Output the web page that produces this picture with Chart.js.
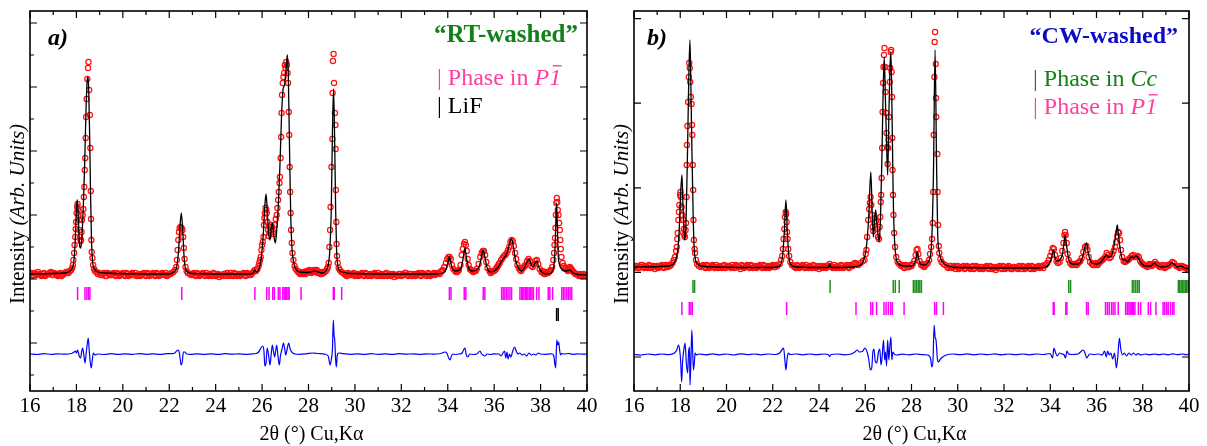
<!DOCTYPE html>
<html>
<head>
<meta charset="utf-8">
<script src="https://cdn.jsdelivr.net/npm/chart.js@4/dist/chart.umd.min.js"></script>
<style>
html,body{margin:0;padding:0;background:#fff;overflow:hidden;}
#wrap{position:relative;width:1207px;height:446px;background:#fff;}
.pan{position:absolute;top:0;height:446px;}
</style>
</head>
<body>
<div id="wrap">
  <div class="pan" style="left:0;width:603px;"><canvas id="ca"></canvas></div>
  <div class="pan" style="left:603px;width:604px;"><canvas id="cb"></canvas></div>
</div>
<script>
// ---------------- axis tick values / labels ----------------
const xMajor = [16,18,20,22,24,26,28,30,32,34,36,38,40];
const xMinor = [17,19,21,23,25,27,29,31,33,35,37,39];
const yTicksA = [0,32,64,96,128,160,192,224,256,288,320,352];
const yMajorA = [32,96,160,224,288,352];
const yTicksB = [0,84.6,169.2,253.8,338.4];

// ---------------- panel a) "RT-washed" ----------------
const obsA = [
[16.0,101],[16.1,99],[16.2,102],[16.3,100],[16.4,101],[16.5,99],[16.6,102],[16.7,100],[16.8,101],[16.9,103],
[17.0,100],[17.1,101],[17.2,99],[17.3,102],[17.4,100],[17.5,102],[17.6,103],[17.66,102],[17.72,104],[17.77,105],
[17.82,107],[17.85,110],[17.87,115],[17.9,122],[17.92,130],[17.95,138],[17.97,146],[17.99,153],[18.01,162],[18.03,168],
[18.05,171],[18.07,166],[18.09,160],[18.11,155],[18.13,145],[18.15,138],[18.18,134],[18.2,135],[18.22,143],[18.24,155],
[18.27,160],[18.3,166],[18.32,178],[18.34,188],[18.36,205],[18.38,217],[18.4,237],[18.42,258],[18.44,276],[18.47,296],
[18.5,307],[18.52,313],[18.55,285],[18.58,260],[18.6,227],[18.62,184],[18.63,156],[18.645,135],[18.66,123],[18.69,117],
[18.72,110],[18.76,106],[18.8,104],[18.86,103],[18.92,101],[19.0,102],[19.1,100],[19.2,102],[19.3,99],[19.4,101],
[19.5,100],[19.6,102],[19.7,99],[19.8,101],[19.9,100],[20.0,102],[20.1,99],[20.2,101],[20.3,100],[20.4,102],
[20.5,100],[20.6,99],[20.7,101],[20.8,100],[20.9,102],[21.0,99],[21.1,101],[21.2,100],[21.3,102],[21.4,99],
[21.5,101],[21.6,100],[21.7,102],[21.8,100],[21.9,99],[22.0,101],[22.1,102],[22.18,103],[22.25,105],[22.3,108],
[22.33,115],[22.36,125],[22.39,135],[22.42,143],[22.45,147],[22.49,148],[22.53,147],[22.57,145],[22.6,138],[22.63,127],
[22.66,116],[22.7,108],[22.75,104],[22.8,102],[22.88,101],[22.95,100],[23.05,102],[23.15,99],[23.25,101],[23.35,100],
[23.45,102],[23.55,99],[23.65,100],[23.75,101],[23.85,99],[23.95,101],[24.05,100],[24.15,98],[24.25,100],[24.35,101],
[24.45,99],[24.55,100],[24.65,102],[24.75,99],[24.85,101],[24.95,100],[25.05,99],[25.15,101],[25.25,100],[25.35,102],
[25.45,100],[25.55,101],[25.62,103],[25.68,105],[25.74,104],[25.8,106],[25.85,109],[25.88,112],[25.91,115],[25.94,118],
[25.97,125],[26.0,130],[26.03,133],[26.06,138],[26.08,150],[26.1,157],[26.12,162],[26.15,167],[26.18,165],[26.2,162],
[26.23,153],[26.26,145],[26.29,139],[26.32,142],[26.35,148],[26.39,150],[26.43,148],[26.47,143],[26.51,141],[26.55,150],
[26.59,156],[26.63,160],[26.66,167],[26.69,175],[26.72,183],[26.75,192],[26.77,198],[26.8,217],[26.82,238],[26.84,262],
[26.86,280],[26.89,292],[26.92,298],[26.95,302],[26.98,310],[27.01,307],[27.04,313],[27.07,310],[27.1,302],[27.12,292],
[27.15,263],[27.17,240],[27.19,208],[27.21,183],[27.23,162],[27.25,145],[27.28,132],[27.31,122],[27.35,115],[27.4,109],
[27.45,106],[27.52,104],[27.6,102],[27.68,103],[27.76,101],[27.84,102],[27.92,104],[28.0,103],[28.08,104],[28.16,103],
[28.24,105],[28.32,104],[28.4,102],[28.48,103],[28.56,101],[28.64,102],[28.7,103],[28.75,104],[28.8,106],[28.84,108],
[28.87,112],[28.9,128],[28.93,145],[28.95,168],[28.99,208],[29.03,236],[29.04,282],[29.055,314],[29.08,321],[29.1,292],
[29.14,262],[29.16,250],[29.17,226],[29.18,185],[29.2,153],[29.21,131],[29.23,119],[29.26,112],[29.3,107],[29.35,105],
[29.42,103],[29.5,102],[29.6,100],[29.7,102],[29.8,100],[29.9,101],[30.0,99],[30.1,101],[30.2,100],[30.3,102],
[30.4,99],[30.5,101],[30.6,100],[30.7,99],[30.8,101],[30.9,100],[31.0,102],[31.1,99],[31.2,100],[31.3,101],
[31.4,99],[31.5,101],[31.6,100],[31.7,98],[31.8,100],[31.9,101],[32.0,99],[32.1,100],[32.2,102],[32.3,99],
[32.4,101],[32.5,100],[32.6,99],[32.7,101],[32.8,100],[32.9,102],[33.0,100],[33.1,99],[33.2,101],[33.3,100],
[33.4,102],[33.5,101],[33.6,102],[33.7,103],[33.78,105],[33.85,108],[33.92,112],[33.98,116],[34.03,118],[34.08,118],
[34.13,116],[34.18,110],[34.24,106],[34.32,104],[34.4,103],[34.48,105],[34.55,110],[34.6,120],[34.65,126],[34.7,131],
[34.74,133],[34.78,130],[34.82,124],[34.86,116],[34.9,110],[34.96,106],[35.05,104],[35.15,104],[35.25,106],[35.33,111],
[35.4,118],[35.46,122],[35.51,124],[35.56,124],[35.61,120],[35.66,113],[35.71,107],[35.8,104],[35.9,103],[36.0,104],
[36.08,106],[36.16,109],[36.24,112],[36.3,115],[36.36,117],[36.42,119],[36.48,120],[36.54,122],[36.6,125],[36.65,128],
[36.7,133],[36.75,135],[36.8,134],[36.85,129],[36.9,122],[36.95,116],[37.0,110],[37.06,107],[37.12,105],[37.2,106],
[37.28,108],[37.35,110],[37.42,114],[37.48,116],[37.54,114],[37.6,109],[37.66,108],[37.72,111],[37.78,114],[37.84,115],
[37.9,111],[37.96,106],[38.04,103],[38.12,102],[38.2,101],[38.28,102],[38.36,103],[38.44,105],[38.5,108],[38.55,115],
[38.58,122],[38.6,130],[38.62,137],[38.64,147],[38.66,160],[38.68,172],[38.7,177],[38.72,173],[38.74,165],[38.77,160],
[38.8,152],[38.83,145],[38.85,135],[38.87,126],[38.9,118],[38.95,112],[39.0,109],[39.07,107],[39.15,105],[39.22,106],
[39.29,107],[39.35,105],[39.42,103],[39.5,101],[39.6,100],[39.7,101],[39.8,99],[39.9,100],[40.0,99],
// further background readings between the ones above
[16.05,102],[16.15,100],[16.25,101],[16.35,103],[16.45,100],[16.55,101],[16.65,99],[16.75,101],[16.85,102],[16.95,100],
[17.05,102],[17.15,100],[17.25,101],[17.35,99],[17.45,101],[17.55,103],[19.05,100],[19.15,101],[19.25,99],[19.35,102],
[19.45,100],[19.55,101],[19.65,100],[19.75,102],[19.85,99],[19.95,101],[20.05,100],[20.15,102],[20.25,99],[20.35,101],
[20.45,100],[20.55,102],[20.65,100],[20.75,99],[20.85,101],[20.95,100],[21.05,102],[21.15,99],[21.25,101],[21.35,100],
[21.45,102],[21.55,99],[21.65,101],[21.75,100],[21.85,102],[21.95,100],[22.05,101],[23.0,101],[23.1,100],[23.2,102],
[23.3,99],[23.4,101],[23.5,100],[23.6,102],[23.7,99],[23.8,100],[23.9,102],[24.0,99],[24.1,101],[24.2,100],
[24.3,99],[24.4,101],[24.5,102],[24.6,99],[24.7,100],[24.8,102],[24.9,99],[25.0,101],[25.1,100],[25.2,102],
[25.3,99],[25.4,101],[25.5,100],[27.56,103],[27.64,101],[27.72,102],[27.8,103],[27.88,101],[27.96,103],[28.04,105],
[28.12,102],[28.2,104],[28.28,103],[28.36,105],[28.44,102],[28.52,101],[28.6,103],[29.55,101],[29.65,99],[29.75,101],
[29.85,100],[29.95,102],[30.05,100],[30.15,99],[30.25,101],[30.35,100],[30.45,102],[30.55,99],[30.65,101],[30.75,100],
[30.85,102],[30.95,99],[31.05,100],[31.15,101],[31.25,99],[31.35,102],[31.45,100],[31.55,99],[31.65,101],[31.75,100],
[31.85,99],[31.95,101],[32.05,100],[32.15,102],[32.25,100],[32.35,101],[32.45,99],[32.55,101],[32.65,100],[32.75,102],
[32.85,99],[32.95,101],[33.05,100],[33.15,102],[33.25,99],[33.35,101],[33.45,100],[33.55,102],[33.65,101],[33.74,104],
[34.36,103],[34.44,104],[35.0,105],[35.1,103],[35.2,104],[35.85,102],[35.95,104],[36.04,105],[36.12,108],[36.2,111],
[37.16,104],[37.24,107],[37.32,109],[38.08,104],[38.16,101],[38.24,103],[38.32,102],[38.4,104],[39.1,106],[39.18,104],
[39.26,108],[39.32,106],[39.38,104],[39.46,102],[39.55,101],[39.65,99],[39.75,100],[39.85,101],[39.95,99]
];
const calcA = [
[16,101],[17.5,102],[17.7,103.5],[17.8,106],[17.88,112],[17.94,130],[17.98,155],[18.01,170],[18.04,175],[18.07,165],
[18.11,140],[18.15,128],[18.19,127],[18.24,140],[18.3,170],[18.36,215],[18.42,270],[18.47,296],[18.5,298],[18.53,285],
[18.57,240],[18.61,180],[18.65,135],[18.69,115],[18.75,107],[18.85,104],[19.2,102],[22.0,101],[22.2,103],[22.32,108],
[22.4,124],[22.46,148],[22.52,162],[22.58,145],[22.64,118],[22.7,106],[22.8,103],[23.0,101.5],[25.5,101],[25.62,102],
[25.69,105],[25.75,103],[25.85,105],[25.95,115],[26.05,140],[26.12,170],[26.17,181],[26.22,165],[26.28,142],[26.34,135],
[26.4,148],[26.44,152],[26.5,140],[26.57,132],[26.63,145],[26.7,170],[26.77,210],[26.84,260],[26.9,285],[26.93,288],
[26.97,290],[27.03,305],[27.09,320],[27.13,300],[27.18,230],[27.23,165],[27.28,130],[27.35,114],[27.45,106],[27.6,103],
[27.9,102.5],[28.1,103],[28.25,104],[28.35,103.5],[28.6,102],[28.75,104],[28.85,110],[28.92,125],[28.98,165],[29.03,240],
[29.08,286],[29.13,230],[29.17,165],[29.21,125],[29.26,110],[29.32,105],[29.45,103],[29.8,101.5],[33.5,101],[33.8,102],
[33.95,107],[34.03,115],[34.07,119],[34.12,114],[34.2,106],[34.35,104],[34.55,106],[34.65,115],[34.74,127],[34.8,118],
[34.9,107],[35.05,104],[35.25,105],[35.4,112],[35.48,122],[35.53,125],[35.6,118],[35.7,107],[35.85,103],[36.0,104],
[36.15,107],[36.28,112],[36.35,115],[36.45,118],[36.55,122],[36.65,130],[36.75,136],[36.83,128],[36.92,115],[37.05,107],
[37.18,104],[37.3,107],[37.42,113],[37.51,116],[37.6,110],[37.68,108],[37.76,112],[37.83,114],[37.92,108],[38.05,103],
[38.25,101],[38.45,102],[38.55,106],[38.62,125],[38.66,155],[38.69,172],[38.72,150],[38.76,120],[38.82,110],[38.9,106],
[39.05,104],[39.2,104.5],[39.27,105],[39.4,102],[39.6,100.5],[40,100]
];
const diffA = [
[16,21],[16.3,20.5],[16.6,21.3],[16.9,20.7],[17.2,21.2],[17.5,20.8],[17.8,21.5],[17.9,23],[17.95,24],[18.0,22],
[18.05,25],[18.12,19],[18.18,17],[18.23,24],[18.27,27],[18.32,20],[18.37,12],[18.43,24],[18.48,33],[18.51,37],
[18.55,25],[18.6,12],[18.64,7],[18.68,14],[18.73,22],[18.8,20],[18.9,21],[19.2,20.5],[19.5,21.3],[19.8,20.6],
[20.1,21.2],[20.4,20.6],[20.7,21.4],[21.0,20.7],[21.3,21.2],[21.6,20.6],[21.9,21.3],[22.2,21.5],[22.32,24],[22.4,25],
[22.45,20],[22.51,10],[22.56,13],[22.61,23],[22.67,23],[22.75,21],[22.9,20.6],[23.2,21.2],[23.5,20.7],[23.8,21.2],
[24.1,20.6],[24.4,21.3],[24.7,20.8],[25.0,21.2],[25.3,20.6],[25.6,21.2],[25.75,21.5],[25.85,23],[25.95,27],[26.03,29],
[26.08,24],[26.12,9],[26.17,12],[26.22,27],[26.28,20],[26.34,10],[26.39,20],[26.44,30],[26.49,24],[26.54,18],
[26.59,25],[26.63,30],[26.68,20],[26.74,10],[26.79,19],[26.86,26],[26.92,32],[26.97,27],[27.02,20],[27.08,26],
[27.15,32],[27.2,27],[27.25,24],[27.32,22],[27.42,21],[27.6,20.7],[27.9,21.2],[28.2,22],[28.4,21.5],[28.7,20.8],
[28.85,19],[28.93,10],[28.98,15],[29.03,25],[29.07,55],[29.1,40],[29.13,35],[29.17,15],[29.2,8],[29.24,20],
[29.3,22],[29.5,21.4],[29.8,20.7],[30.1,21.2],[30.4,20.6],[30.7,21.3],[31.0,20.7],[31.3,21.2],[31.6,20.6],[31.9,21.3],
[32.2,20.8],[32.5,21.2],[32.8,20.7],[33.1,21.2],[33.4,20.8],[33.7,21.5],[33.88,23],[33.96,22],[34.04,17],[34.1,15],
[34.16,19],[34.22,21],[34.35,20.5],[34.5,21],[34.62,22],[34.7,26],[34.74,27],[34.8,20],[34.86,18],[34.95,21],
[35.1,20.5],[35.25,21],[35.39,24],[35.46,21],[35.52,20],[35.6,19],[35.7,21],[35.85,20.5],[36.0,21.2],[36.2,21],
[36.3,19],[36.38,22],[36.45,24],[36.5,17],[36.55,23],[36.6,16],[36.66,21],[36.72,18],[36.8,24],[36.88,28],
[36.95,24],[37.02,21],[37.1,22],[37.2,20],[37.3,21],[37.4,19],[37.5,22],[37.6,20],[37.7,21],[37.8,20],
[37.9,22],[38.0,21],[38.2,20.6],[38.4,21.2],[38.5,21],[38.57,19],[38.62,10],[38.65,7],[38.68,25],[38.7,35],
[38.74,30],[38.78,33],[38.82,25],[38.86,20],[38.9,21.5],[39.0,21],[39.2,21.5],[39.4,20.7],[39.6,21.2],[39.8,20.8],[40,21]
];
const braggA_P1 = [18.05,18.37,18.45,18.52,18.58,22.54,25.69,26.2,26.3,26.46,26.53,26.7,26.77,26.89,26.95,27.0,27.06,27.12,27.17,
27.68,29.07,29.11,29.43,34.07,34.14,34.71,34.78,35.53,35.6,36.32,36.39,36.46,36.53,36.6,36.68,36.75,37.11,37.18,37.22,37.28,
37.34,37.39,37.45,37.51,37.57,37.63,37.69,37.83,37.93,38.33,38.4,38.52,38.91,38.98,39.05,39.13,39.2,39.27,39.34];
const braggA_LiF = [38.69,38.76];

// ---------------- panel b) "CW-washed" ----------------
const obsB = [
[16.0,90],[16.1,91],[16.2,89],[16.3,92],[16.4,90],[16.5,91],[16.6,89],[16.7,91],[16.8,90],[16.9,88],
[17.0,91],[17.1,90],[17.2,92],[17.3,89],[17.4,91],[17.5,92],[17.6,92],[17.66,94],[17.72,97],[17.77,100],
[17.82,106],[17.85,110],[17.87,118],[17.89,124],[17.92,137],[17.94,145],[17.96,152],[17.99,162],[18.01,165],[18.03,160],
[18.06,150],[18.09,142],[18.12,137],[18.15,128],[18.17,122],[18.2,120],[18.23,127],[18.25,134],[18.27,160],[18.28,192],
[18.29,212],[18.31,231],[18.34,255],[18.37,280],[18.39,294],[18.41,289],[18.43,275],[18.46,260],[18.49,253],[18.51,232],
[18.52,222],[18.54,192],[18.56,167],[18.57,137],[18.59,117],[18.62,108],[18.64,104],[18.68,97],[18.73,93],[18.8,91],
[18.9,90],[19.0,92],[19.1,89],[19.2,91],[19.3,90],[19.4,92],[19.5,89],[19.6,90],[19.7,91],[19.8,89],
[19.9,92],[20.0,90],[20.1,91],[20.2,89],[20.3,90],[20.4,92],[20.5,90],[20.6,88],[20.7,91],[20.8,90],
[20.9,92],[21.0,89],[21.1,91],[21.2,90],[21.3,89],[21.4,91],[21.5,90],[21.6,92],[21.7,89],[21.8,91],
[21.9,90],[22.0,92],[22.1,90],[22.2,91],[22.3,93],[22.36,97],[22.41,101],[22.44,108],[22.47,118],[22.5,128],
[22.53,140],[22.56,145],[22.58,143],[22.6,135],[22.62,125],[22.64,118],[22.67,108],[22.71,101],[22.76,95],[22.83,92],
[22.9,91],[23.0,89],[23.1,91],[23.2,90],[23.3,92],[23.4,89],[23.5,90],[23.6,91],[23.7,89],[23.8,91],
[23.9,90],[24.0,88],[24.1,91],[24.2,90],[24.3,89],[24.4,91],[24.45,93],[24.5,91],[24.6,89],[24.7,90],
[24.8,91],[24.9,89],[25.0,91],[25.1,90],[25.2,92],[25.3,89],[25.4,91],[25.5,93],[25.56,94],[25.62,93],
[25.7,92],[25.8,94],[25.9,96],[25.97,97],[26.02,103],[26.05,107],[26.08,120],[26.13,137],[26.17,148],[26.2,154],
[26.23,160],[26.26,152],[26.29,142],[26.32,130],[26.35,126],[26.39,135],[26.43,139],[26.47,136],[26.51,128],[26.55,120],
[26.59,118],[26.62,130],[26.65,140],[26.67,155],[26.69,162],[26.71,179],[26.73,209],[26.75,245],[26.77,274],[26.79,290],
[26.81,302],[26.83,309],[26.86,290],[26.88,265],[26.9,244],[26.92,224],[26.95,210],[26.97,193],[26.99,209],[27.01,217],
[27.03,240],[27.06,275],[27.08,289],[27.1,305],[27.12,307],[27.14,285],[27.16,260],[27.17,219],[27.18,187],[27.2,162],
[27.22,142],[27.25,124],[27.29,110],[27.34,100],[27.4,95],[27.47,93],[27.55,91],[27.65,90],[27.75,92],[27.85,90],
[27.95,92],[28.05,93],[28.12,96],[28.18,102],[28.22,107],[28.26,108],[28.3,103],[28.35,96],[28.42,92],[28.5,91],
[28.6,92],[28.7,94],[28.76,97],[28.8,103],[28.85,110],[28.89,118],[28.92,134],[28.94,165],[28.96,222],[28.99,280],
[29.0,315],[29.02,325],[29.05,293],[29.06,259],[29.07,240],[29.12,203],[29.13,165],[29.15,132],[29.18,111],[29.2,104],
[29.25,98],[29.3,95],[29.38,93],[29.46,92],[29.55,90],[29.65,91],[29.75,89],[29.85,91],[29.95,90],[30.05,88],
[30.15,90],[30.25,91],[30.35,89],[30.45,90],[30.55,88],[30.65,91],[30.75,89],[30.85,90],[30.95,88],[31.05,90],
[31.15,89],[31.25,91],[31.35,88],[31.45,90],[31.55,89],[31.65,87],[31.75,90],[31.85,89],[31.95,91],[32.05,88],
[32.15,90],[32.25,89],[32.35,88],[32.45,90],[32.55,89],[32.65,91],[32.75,88],[32.85,90],[32.95,89],[33.05,91],
[33.15,88],[33.25,90],[33.35,89],[33.45,90],[33.55,89],[33.65,91],[33.75,92],[33.8,92],[33.87,94],[33.94,97],
[34.0,101],[34.06,105],[34.11,109],[34.16,108],[34.21,102],[34.27,96],[34.33,94],[34.4,95],[34.46,99],[34.52,106],
[34.57,114],[34.61,122],[34.64,125],[34.67,122],[34.71,114],[34.75,103],[34.8,97],[34.86,94],[34.93,92],[35.0,92],
[35.1,93],[35.2,94],[35.3,96],[35.36,99],[35.43,105],[35.5,110],[35.56,111],[35.61,107],[35.66,100],[35.72,95],
[35.8,93],[35.9,92],[36.0,93],[36.1,94],[36.2,96],[36.3,98],[36.37,100],[36.44,104],[36.5,102],[36.56,99],
[36.62,100],[36.68,103],[36.74,106],[36.8,110],[36.85,115],[36.9,121],[36.94,125],[36.98,124],[37.02,117],[37.06,107],
[37.11,100],[37.17,96],[37.23,95],[37.3,96],[37.37,97],[37.45,99],[37.52,101],[37.59,102],[37.65,100],[37.71,100],
[37.77,101],[37.83,100],[37.89,96],[37.95,94],[38.05,92],[38.15,91],[38.25,92],[38.35,92],[38.45,93],[38.53,95],
[38.6,93],[38.7,91],[38.8,90],[38.9,91],[39.0,90],[39.1,91],[39.2,93],[39.28,95],[39.35,94],[39.45,91],
[39.55,90],[39.65,91],[39.75,90],[39.85,89],[39.92,88],[40.0,88],
// further background readings between the ones above
[16.05,91],[16.15,89],[16.25,90],[16.35,92],[16.45,89],[16.55,90],[16.65,92],[16.75,89],[16.85,91],[16.95,90],
[17.05,89],[17.15,91],[17.25,90],[17.35,92],[17.45,90],[17.55,91],[18.95,91],[19.05,90],[19.15,92],[19.25,89],
[19.35,91],[19.45,90],[19.55,92],[19.65,89],[19.75,90],[19.85,91],[19.95,89],[20.05,91],[20.15,90],[20.25,92],
[20.35,89],[20.45,91],[20.55,90],[20.65,92],[20.75,89],[20.85,91],[20.95,90],[21.05,92],[21.15,89],[21.25,91],
[21.35,90],[21.45,92],[21.55,89],[21.65,91],[21.75,90],[21.85,89],[21.95,91],[22.05,90],[22.15,92],[22.95,90],
[23.05,92],[23.15,89],[23.25,91],[23.35,90],[23.45,92],[23.55,89],[23.65,90],[23.75,92],[23.85,89],[23.95,91],
[24.05,90],[24.15,89],[24.25,91],[24.35,90],[24.55,90],[24.65,92],[24.75,89],[24.85,90],[24.95,92],[25.05,89],
[25.15,91],[25.25,90],[25.35,92],[25.45,91],[27.6,92],[27.7,89],[27.8,91],[27.9,90],[28.0,91],[28.45,93],
[28.55,90],[28.65,93],[29.6,89],[29.7,91],[29.8,90],[29.9,88],[30.0,91],[30.1,89],[30.2,90],[30.3,88],
[30.4,91],[30.5,89],[30.6,90],[30.7,88],[30.8,91],[30.9,89],[31.0,90],[31.1,88],[31.2,90],[31.3,89],
[31.4,91],[31.5,88],[31.6,90],[31.7,89],[31.8,91],[31.9,88],[32.0,90],[32.1,89],[32.2,91],[32.3,88],
[32.4,90],[32.5,89],[32.6,88],[32.7,90],[32.8,91],[32.9,88],[33.0,90],[33.1,89],[33.2,91],[33.3,88],
[33.4,90],[33.5,91],[33.6,90],[33.7,89],[35.05,93],[35.15,92],[35.25,95],[35.85,92],[35.95,94],[36.05,92],
[36.15,95],[36.25,97],[37.26,96],[37.4,98],[38.0,93],[38.1,92],[38.2,90],[38.3,93],[38.4,91],[38.65,92],
[38.75,90],[38.85,92],[38.95,89],[39.05,92],[39.15,92],[39.5,91],[39.6,89],[39.7,91],[39.8,90],[39.9,89],[39.96,88]
];
const calcB = [
[16.0,90],[17.5,91],[17.7,93],[17.8,97],[17.9,108],[17.96,130],[18.02,165],[18.075,182],[18.12,150],[18.17,122],
[18.2,117],[18.25,135],[18.31,200],[18.37,280],[18.42,317],[18.46,270],[18.51,200],[18.56,140],[18.6,110],[18.66,97],
[18.75,93],[18.9,91],[19.5,90],[22.0,89.5],[22.3,91],[22.42,100],[22.5,125],[22.57,157],[22.63,125],[22.7,100],
[22.8,92],[23.0,90],[24.35,89.5],[24.42,90],[24.46,93],[24.5,90],[24.6,89.5],[25.5,90],[25.7,91],[25.9,95],
[26.05,110],[26.15,140],[26.24,185],[26.3,145],[26.35,120],[26.41,138],[26.45,147],[26.5,135],[26.6,115],[26.66,140],
[26.72,200],[26.77,260],[26.82,300],[26.87,260],[26.92,215],[26.97,182],[27.02,240],[27.07,290],[27.11,305],[27.16,240],
[27.21,160],[27.26,120],[27.33,100],[27.45,93],[27.7,91],[28.0,91],[28.12,93],[28.2,99],[28.25,105],[28.3,99],
[28.38,93],[28.55,92],[28.75,96],[28.87,115],[28.95,185],[29.02,307],[29.08,200],[29.13,125],[29.2,105],[29.35,95],
[29.6,91],[30.0,89.5],[33.5,89],[33.8,90],[33.95,93],[34.05,99],[34.14,107],[34.2,100],[34.28,96],[34.4,97],
[34.52,102],[34.6,115],[34.64,122],[34.7,112],[34.8,98],[34.95,93],[35.2,93],[35.4,100],[35.5,110],[35.57,114],
[35.65,103],[35.8,94],[36.0,93],[36.2,95],[36.35,100],[36.43,102],[36.5,100],[36.6,100],[36.75,110],[36.85,125],
[36.9,132],[36.95,122],[37.05,104],[37.15,97],[37.25,97],[37.35,95],[37.45,99],[37.55,100],[37.62,99],[37.7,101],
[37.78,100],[37.9,95],[38.1,91],[38.35,91],[38.5,94],[38.6,92],[38.8,90],[39.1,91],[39.25,94],[39.35,93],
[39.5,90],[39.65,91],[39.8,89],[40,88]
];
const diffB = [
[16,2.5],[16.3,2],[16.6,3],[16.9,2.2],[17.2,3],[17.5,2.4],[17.75,4],[17.85,7],[17.92,12],[17.97,8],
[18.02,-5],[18.06,-25],[18.1,-5],[18.16,8],[18.21,14],[18.26,-5],[18.32,-16],[18.36,5],[18.4,10],[18.42,-28],
[18.46,-5],[18.5,27],[18.53,10],[18.57,-13],[18.61,-5],[18.64,4],[18.7,2],[18.8,3],[19.1,2.2],[19.4,3.2],
[19.7,2.2],[20.0,3],[20.3,2],[20.6,3.2],[20.9,2.4],[21.2,3],[21.5,2.2],[21.8,3],[22.1,2.5],[22.3,4],
[22.42,8],[22.47,9],[22.52,-2],[22.57,-13],[22.62,-2],[22.67,4],[22.75,2.5],[23.0,3],[23.3,2.2],[23.6,3],
[23.9,2.3],[24.2,3],[24.4,2.5],[24.46,0.5],[24.52,2.5],[24.8,3],[25.1,2.2],[25.4,3],[25.55,5],[25.65,7],
[25.75,5],[25.9,6],[25.98,9],[26.08,5],[26.15,-2],[26.22,-13],[26.28,-11],[26.33,5],[26.38,8],[26.43,-4],
[26.5,-6],[26.57,5],[26.63,8],[26.68,-8],[26.73,0],[26.79,17],[26.84,-3],[26.88,5],[26.92,-9],[26.97,17],
[27.02,-3],[27.06,10],[27.11,20],[27.15,-3],[27.19,5],[27.25,3],[27.35,2],[27.6,2.8],[27.9,2.2],[28.2,3],
[28.5,2.3],[28.7,2],[28.82,-1],[28.88,-10],[28.93,-3],[28.98,32],[29.02,20],[29.06,17],[29.12,-2],[29.16,-5],
[29.25,-2],[29.35,0],[29.5,2],[29.8,3],[30.1,2.3],[30.4,3.1],[30.7,2.2],[31.0,3],[31.3,2.3],[31.6,3.2],
[31.9,2.2],[32.2,3],[32.5,2.4],[32.8,3],[33.1,2.2],[33.4,3],[33.7,2.5],[34.0,3.5],[34.1,-1],[34.16,9],
[34.22,5],[34.3,1],[34.4,4],[34.5,3],[34.6,2],[34.66,-1],[34.72,6],[34.8,3],[34.95,2.5],[35.2,3],
[35.43,7],[35.5,4],[35.58,-1],[35.7,3],[35.9,2.5],[36.1,3],[36.25,2],[36.35,6],[36.42,0],[36.48,6],
[36.55,2],[36.62,4],[36.7,-2],[36.78,4],[36.86,-11],[36.92,0],[36.99,19],[37.05,8],[37.12,2],[37.2,4],
[37.3,1],[37.4,4],[37.5,2],[37.6,4],[37.7,2],[37.8,3.5],[37.9,2],[38.1,3],[38.3,2.2],[38.5,3],
[38.7,2.3],[38.9,3],[39.1,2.2],[39.3,3.2],[39.5,2.3],[39.7,3],[39.9,2.2],[40,3]
];
const braggB_Cc = [18.55,18.62,24.48,27.21,27.3,27.47,28.08,28.15,28.22,28.29,28.36,28.43,34.8,34.88,
37.55,37.62,37.7,37.78,37.85,39.54,39.6,39.66,39.72,39.78,39.84,39.9,39.96];
const braggB_P1 = [18.07,18.39,18.46,18.52,22.6,25.6,26.24,26.32,26.49,26.81,26.9,27.0,27.1,27.17,27.68,29.0,29.08,29.38,
34.13,34.17,34.67,34.72,35.57,35.64,36.39,36.47,36.55,36.65,36.72,36.8,36.94,37.26,37.33,37.4,37.45,37.5,37.55,37.6,37.66,
37.81,37.91,38.24,38.34,38.57,38.88,38.95,39.03,39.1,39.2,39.29,39.35];

// ---------------- drawing helpers ----------------
const SERIF = '"Liberation Serif","Times New Roman",serif';
const PINK = '#ff3fa0', GREEN_T = '#13801a', BLUE_T = '#0a0ac8';

function rich(ctx, parts, x, y, align) {
  let w = 0;
  parts.forEach(p => { ctx.font = p.font; p.w = ctx.measureText(p.t).width; w += p.w; });
  let cx = align === 'center' ? x - w / 2 : (align === 'right' ? x - w : x);
  ctx.textAlign = 'left';
  parts.forEach(p => {
    ctx.font = p.font; ctx.fillStyle = p.color;
    ctx.fillText(p.t, cx, y);
    if (p.over) {
      ctx.strokeStyle = p.color; ctx.lineWidth = 1.4;
      ctx.beginPath();
      ctx.moveTo(cx + p.w * 0.3, y - p.size * 0.8);
      ctx.lineTo(cx + p.w * 1.05, y - p.size * 0.8);
      ctx.stroke();
    }
    cx += p.w;
  });
}
function p1Parts(size) {
  return [
    {t: '| Phase in ', font: size + 'px ' + SERIF, color: PINK},
    {t: 'P', font: 'italic ' + size + 'px ' + SERIF, color: PINK},
    {t: '1', font: 'italic ' + size + 'px ' + SERIF, color: PINK, over: true, size: size}
  ];
}

function framePlugin(cfg) {
  return {
    id: 'frame',
    afterDraw(chart) {
      const {ctx, chartArea: a, scales: {x, y}} = chart;
      ctx.save();
      ctx.strokeStyle = '#000';
      ctx.lineWidth = 1.2;
      const xt = (v, len) => {
        const px = x.getPixelForValue(v);
        ctx.beginPath();
        ctx.moveTo(px, a.bottom); ctx.lineTo(px, a.bottom - len);
        ctx.moveTo(px, a.top); ctx.lineTo(px, a.top + len);
        ctx.stroke();
      };
      xMajor.forEach(v => xt(v, 7));
      xMinor.forEach(v => xt(v, 4));
      cfg.yTicks.forEach(v => {
        const py = y.getPixelForValue(v);
        const len = cfg.yMajor ? (cfg.yMajor.includes(v) ? 7 : 4) : 7;
        ctx.beginPath();
        ctx.moveTo(a.left, py); ctx.lineTo(a.left + len, py);
        ctx.moveTo(a.right, py); ctx.lineTo(a.right - len, py);
        ctx.stroke();
      });
      ctx.lineWidth = 1.6;
      ctx.strokeRect(a.left, a.top, a.right - a.left, a.bottom - a.top);

      // tick labels
      ctx.fillStyle = '#000';
      ctx.font = '21px ' + SERIF;
      ctx.textAlign = 'center';
      ctx.textBaseline = 'alphabetic';
      xMajor.forEach(v => ctx.fillText(String(v), x.getPixelForValue(v), a.bottom + 21));

      // x title
      rich(ctx, [{t: '2θ (°) Cu,Kα', font: '20px ' + SERIF, color: '#000'}], (a.left + a.right) / 2 + 3, a.bottom + 49, 'center');

      // y title
      ctx.save();
      ctx.translate(a.left - 12, (a.top + a.bottom) / 2 + 13);
      ctx.rotate(-Math.PI / 2);
      ctx.textBaseline = 'middle';
      rich(ctx, [
        {t: 'Intensity ', font: '21px ' + SERIF, color: '#000'},
        {t: '(Arb. Units)', font: 'italic 21px ' + SERIF, color: '#000'}
      ], 0, 0, 'center');
      ctx.restore();

      ctx.textBaseline = 'alphabetic';
      rich(ctx, [{t: cfg.label, font: 'italic bold 24px ' + SERIF, color: '#000'}], a.left + cfg.labelDx, 45, 'left');
      rich(ctx, [{t: cfg.title, font: 'bold ' + cfg.titleSize + 'px ' + SERIF, color: cfg.titleColor}], cfg.titleRight, cfg.titleBase, 'right');
      cfg.legend.forEach(l => rich(ctx, l.parts, cfg.legendLeft, l.base, 'left'));
      ctx.restore();
    }
  };
}

function toXY(data) {
  return data.map(d => ({x: d[0], y: d[1]})).sort((p, q) => p.x - q.x);
}
function obsSet(data) {
  return {type: 'line', data: toXY(data), showLine: false,
    pointStyle: 'circle', pointRadius: 2.6, pointBorderWidth: 1.2, pointBorderColor: '#ff1010',
    pointBackgroundColor: 'rgba(0,0,0,0)', order: 1};
}
function lineSet(data, color, w, order) {
  return {type: 'line', data: toXY(data), borderColor: color, borderWidth: w,
    pointRadius: 0, cubicInterpolationMode: 'monotone', fill: false, order: order};
}
function braggSet(pos, rowY, color) {
  return {type: 'line', data: pos.map(p => ({x: p, y: rowY})), showLine: false,
    pointStyle: 'line', pointRotation: 90, pointRadius: 6.5, pointBorderWidth: 1.5,
    pointBorderColor: color, pointBackgroundColor: color, order: 3};
}

function makeChart(id, datasets, yMin, yMax, pad, cfg) {
  return new Chart(document.getElementById(id), {
    type: 'line',
    data: {datasets: datasets},
    options: {
      responsive: true, maintainAspectRatio: false, animation: false, devicePixelRatio: 1,
      layout: {padding: pad},
      plugins: {legend: {display: false}, tooltip: {enabled: false}},
      events: [],
      scales: {
        x: {type: 'linear', min: 16, max: 40, display: false},
        y: {type: 'linear', min: yMin, max: yMax, display: false}
      }
    },
    plugins: [framePlugin(cfg)]
  });
}

makeChart('ca', [
  lineSet(calcA, '#000', 1.3, 0),
  obsSet(obsA),
  lineSet(diffA, '#0000ff', 1.2, 2),
  braggSet(braggA_P1, 81.5, '#ff00ff'),
  braggSet(braggA_LiF, 60.5, '#000')
], -16, 364, {left: 30, right: 16, top: 11, bottom: 55}, {
  yTicks: yTicksA, yMajor: yMajorA, label: 'a)', labelDx: 18,
  title: '\u201CRT-washed\u201D', titleSize: 25, titleColor: GREEN_T, titleRight: 578, titleBase: 42,
  legendLeft: 437,
  legend: [
    {parts: p1Parts(24), base: 85},
    {parts: [{t: '| LiF', font: '24px ' + SERIF, color: '#000'}], base: 113}
  ]
});

makeChart('cb', [
  lineSet(calcB, '#000', 1.3, 0),
  obsSet(obsB),
  lineSet(diffB, '#0000ff', 1.2, 2),
  braggSet(braggB_Cc, 70.5, '#1f8f1f'),
  braggSet(braggB_P1, 48.5, '#ff00ff')
], -34, 346, {left: 31, right: 18, top: 11, bottom: 55}, {
  yTicks: yTicksB, yMajor: null, label: 'b)', labelDx: 13,
  title: '\u201CCW-washed\u201D', titleSize: 24, titleColor: BLUE_T, titleRight: 575, titleBase: 43,
  legendLeft: 430,
  legend: [
    {parts: [
      {t: '| Phase in ', font: '24px ' + SERIF, color: GREEN_T},
      {t: 'Cc', font: 'italic 24px ' + SERIF, color: GREEN_T}
    ], base: 86},
    {parts: p1Parts(24), base: 114}
  ]
});
</script>
</body>
</html>
